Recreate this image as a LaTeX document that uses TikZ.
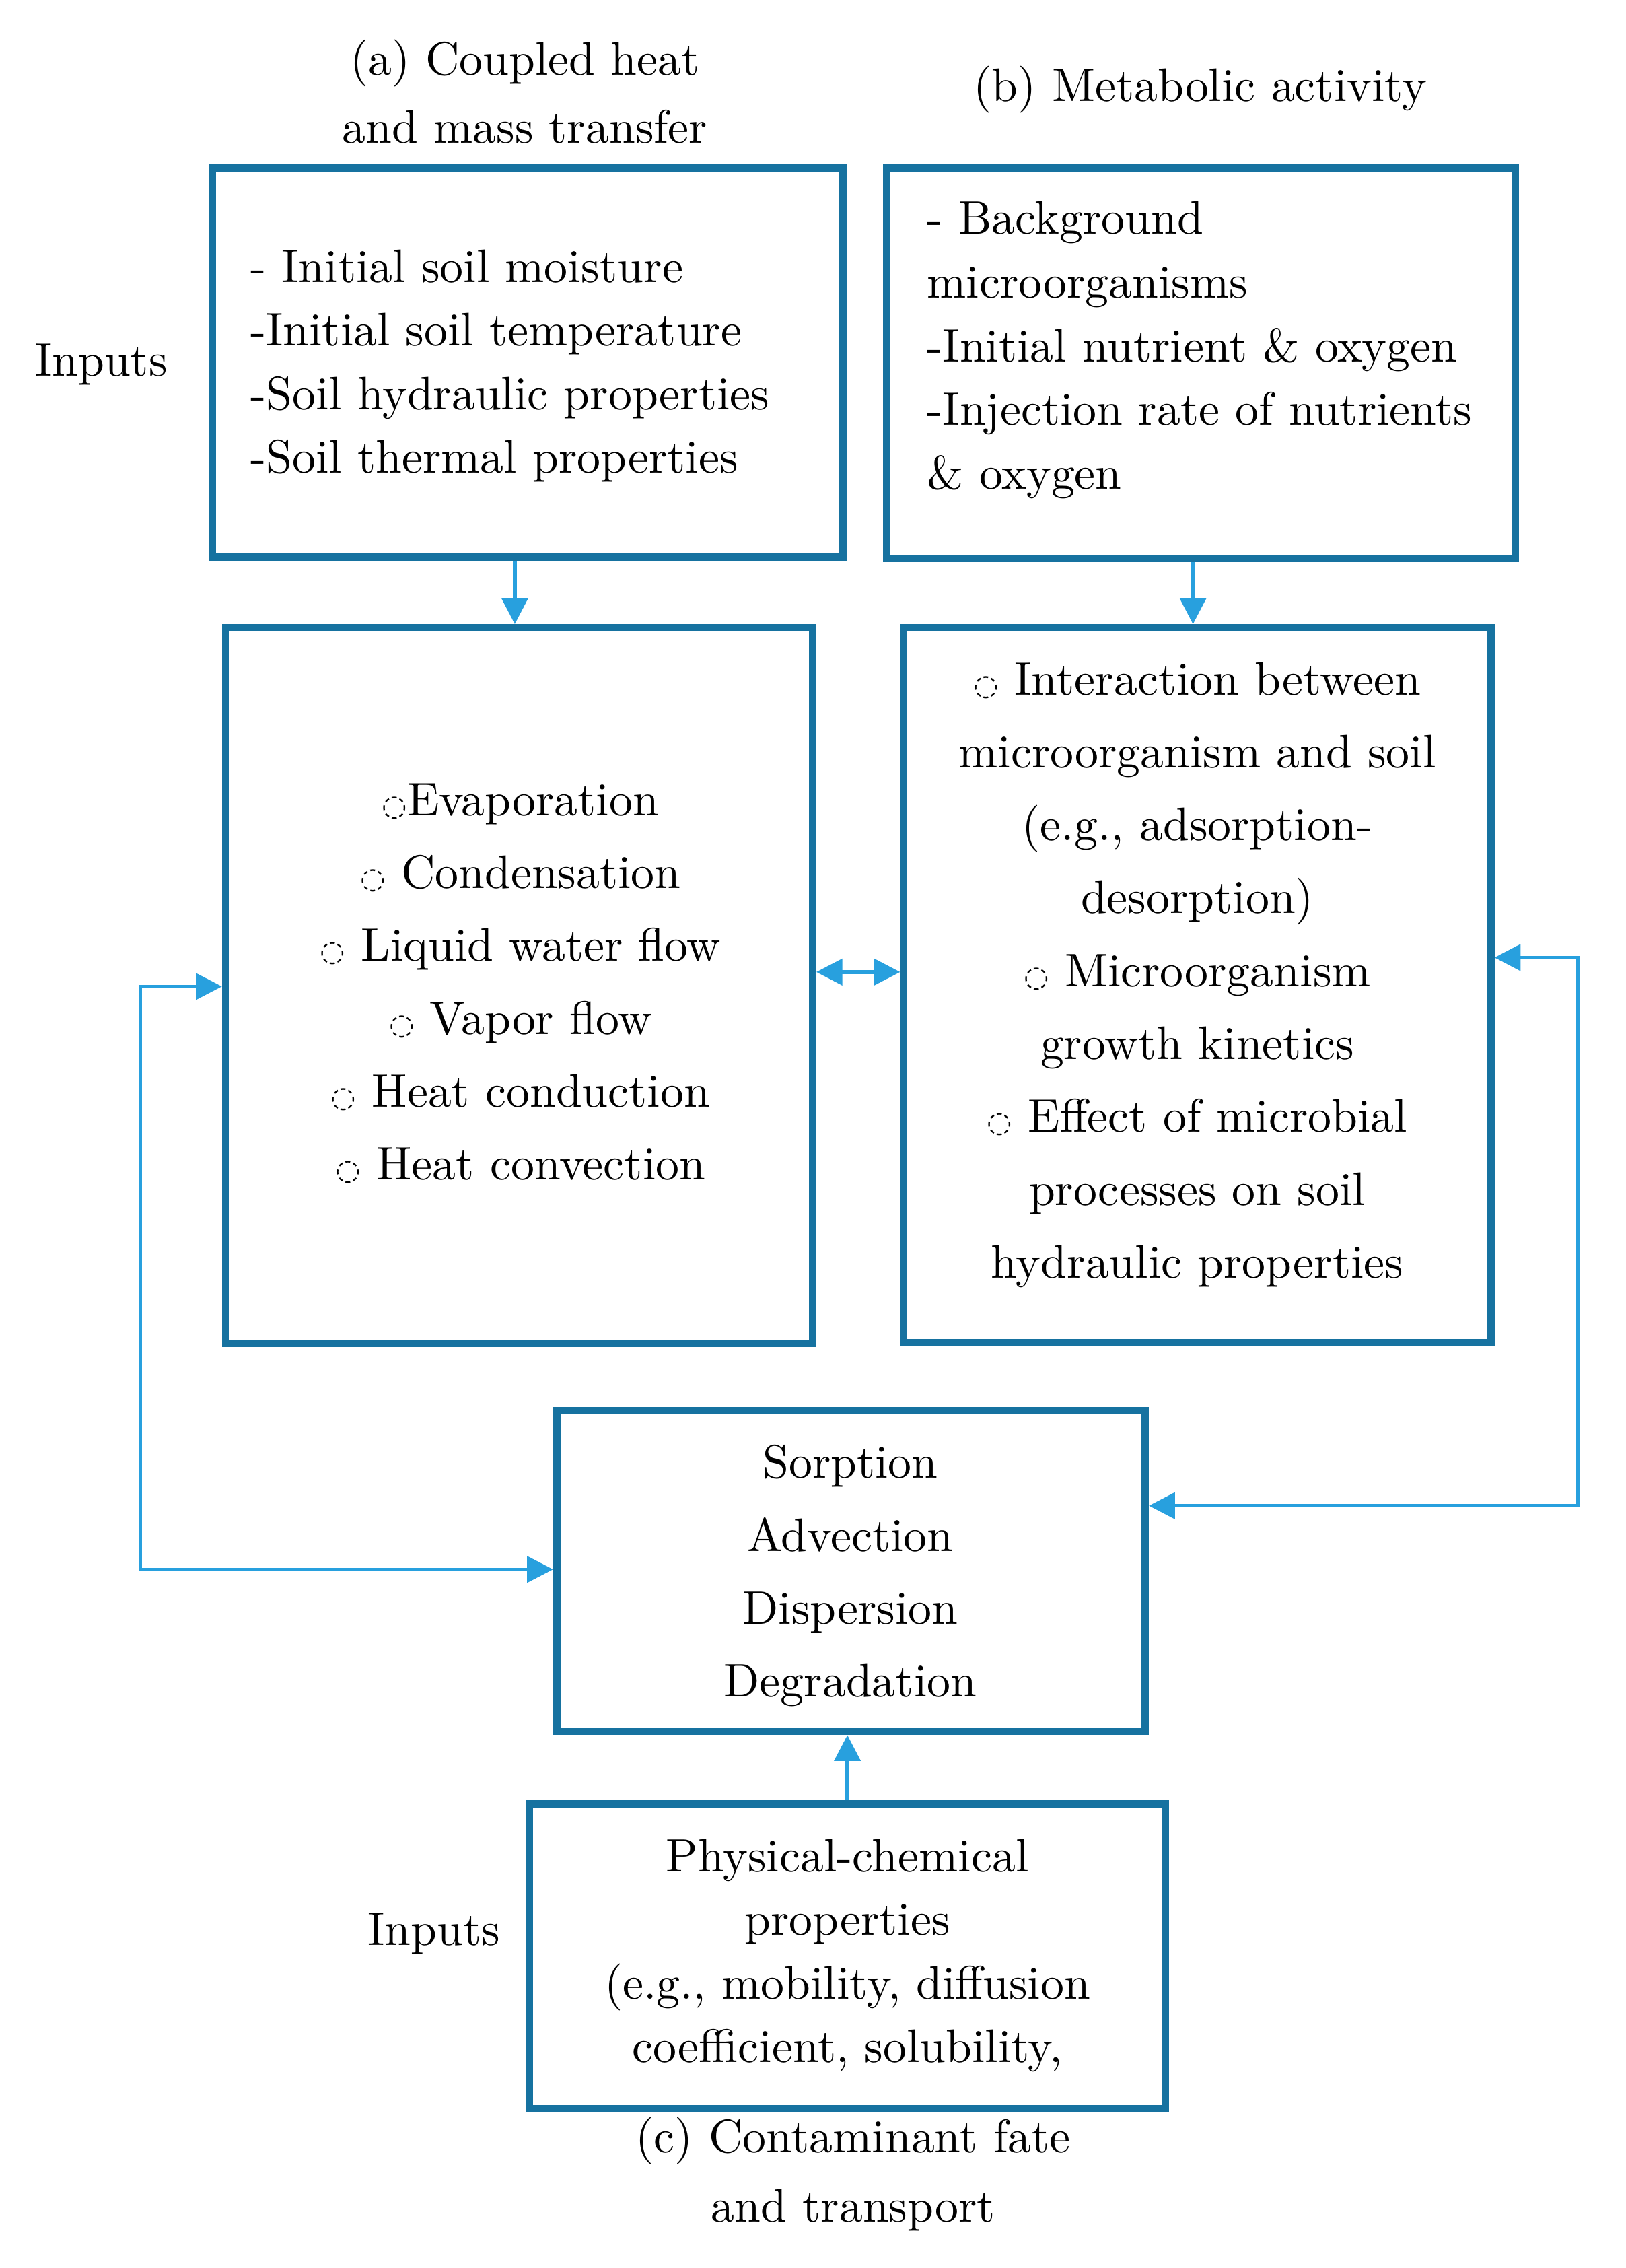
\documentclass[tikz,border=0pt]{standalone}
\usepackage{fontspec}
\setmainfont{lmroman10-regular.otf}
\newfontfamily\symfont{DejaVu Sans}
\usetikzlibrary{arrows.meta}
\definecolor{boxblue}{RGB}{22,114,160}
\definecolor{arrblue}{RGB}{40,160,222}
\newcommand{\dcirc}{{\symfont\fontsize{20}{20}\selectfont ◌}}
\begin{document}
\begin{tikzpicture}[x=1pt,y=-1pt,
  boxst/.style={draw=boxblue, line width=5pt, inner sep=0pt},
  txt/.style={inner sep=0pt, font=\fontsize{32.5}{44}\selectfont},
  txtw/.style={inner sep=0pt, align=center, font=\fontsize{32.5}{50.4}\selectfont},
  tip/.style={Triangle[length=18pt,width=18pt]},
  arr/.style={draw=arrblue, line width=2.5pt, -{Triangle[length=18pt,width=18pt]}},
  darr/.style={draw=arrblue, line width=2.5pt, {Triangle[length=18pt,width=18pt]}-{Triangle[length=18pt,width=18pt]}}
]
\useasboundingbox (0,0) rectangle (1124,1568);

% titles
\node[txt, align=center, font=\fontsize{32.5}{47}\selectfont] (ta) at (363,63.5) {(a) Coupled heat\\and mass transfer};
\node[txt] (tb) at (830,62) {(b) Metabolic activity};
\node[txt, align=center, font=\fontsize{32.5}{48}\selectfont] (tc) at (590,1503) {(c) Contaminant fate\\and transport};
\node[txt] (in1) at (70,252) {Inputs};
\node[txt] (in2) at (300,1337) {Inputs};

% boxes
\node[boxst, minimum width=436pt, minimum height=269pt] (b1) at (365,250.5) {};
\node[boxst, minimum width=435pt, minimum height=270pt] (b2) at (830.5,251) {};
\node[boxst, minimum width=406pt, minimum height=495pt] (b3) at (359,681.5) {};
\node[boxst, minimum width=406pt, minimum height=494pt] (b4) at (828,681) {};
\node[boxst, minimum width=407pt, minimum height=222pt] (b5) at (588.5,1086) {};
\node[boxst, minimum width=440pt, minimum height=211pt] (b6) at (586,1352.5) {};

% box texts
\node[txt, align=left, anchor=west] (t1) at (173,253) {- Initial soil moisture\\-Initial soil temperature\\-Soil hydraulic properties\\-Soil thermal properties};
\node[txt, align=left, anchor=west] (t2) at (641,242) {- Background\\microorganisms\\-Initial nutrient \& oxygen\\-Injection rate of nutrients\\\& oxygen};
\node[txtw] (t3) at (360,680) {\dcirc Evaporation\\\dcirc\ Condensation\\\dcirc\ Liquid water flow\\\dcirc\ Vapor flow\\\dcirc\ Heat conduction\\\dcirc\ Heat convection};
\node[txtw] (t4) at (828,674) {\dcirc\ Interaction between\\microorganism and soil\\(e.g., adsorption-\\desorption)\\\dcirc\ Microorganism\\growth kinetics\\\dcirc\ Effect of microbial\\processes on soil\\hydraulic properties};
\node[txtw] (t5) at (588,1089.5) {Sorption\\Advection\\Dispersion\\Degradation};
\node[txt, align=center] (t6) at (586,1352) {Physical-chemical\\properties\\(e.g., mobility, diffusion\\coefficient, solubility,};

% helper coordinates
\coordinate (y672) at (0,672);
\coordinate (y682) at (0,682);
\coordinate (y1085) at (0,1085);
\coordinate (y662) at (0,662);
\coordinate (y1041) at (0,1041);
\coordinate (l1) at (97,682);
\coordinate (l2) at (97,1085);
\coordinate (r1) at (1091,662);
\coordinate (r2) at (1091,1041);

% connectors
\draw[arr] ([xshift=-9pt]b1.south) -- ([xshift=-9pt]b1.south |- b3.north);
\draw[arr] ([xshift=-5.5pt]b2.south) -- ([xshift=-5.5pt]b2.south |- b4.north);
\draw[darr] (b3.east |- y672) -- (b4.west |- y672);
\draw[darr] (b3.west |- y682) -- (l1) -- (l2) -- (b5.west |- y1085);
\draw[darr] (b4.east |- y662) -- (r1) -- (r2) -- (b5.east |- y1041);
\draw[arr] (b6.north) -- (b6.north |- b5.south);
\end{tikzpicture}
\end{document}
